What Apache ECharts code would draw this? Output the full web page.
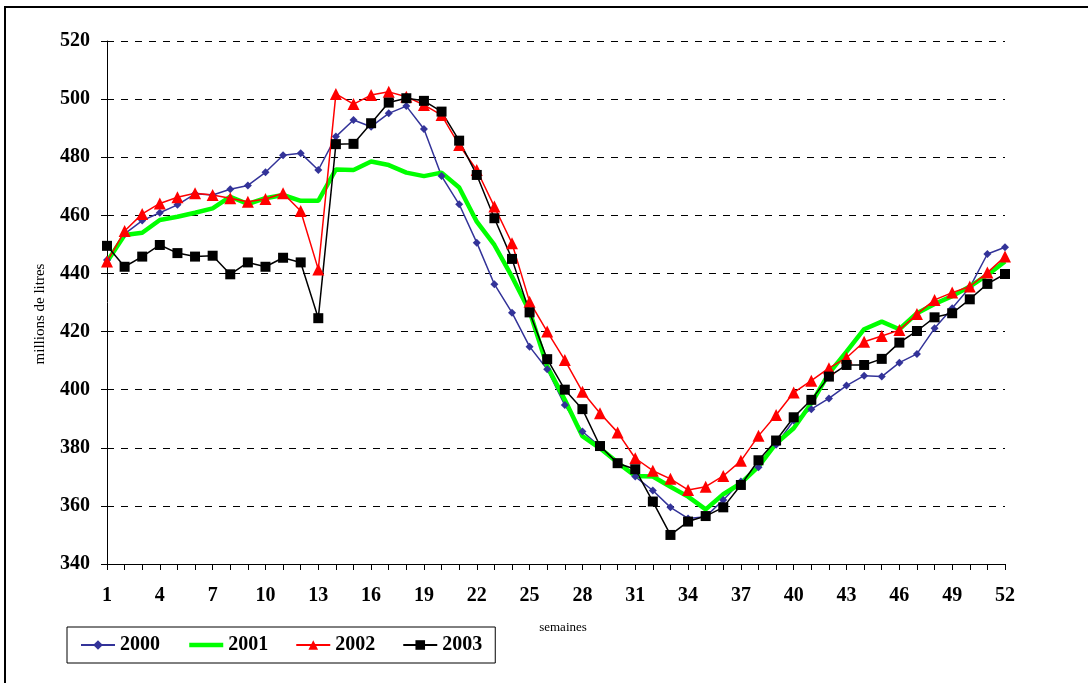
<!DOCTYPE html>
<html>
<head>
<meta charset="utf-8">
<script src="https://cdn.jsdelivr.net/npm/echarts@6/dist/echarts.min.js"></script>
<style>
html,body{margin:0;padding:0;background:#fff;}
#chart{width:1088px;height:683px;}
</style>
</head>
<body>
<div id="chart"></div>
<script>
var weeks = [];
for (var i = 1; i <= 52; i++) weeks.push(String(i));

var d2000 = [444.6, 453.6, 458.2, 460.9, 463.6, 467.4, 467, 469, 470.3, 474.8, 480.7, 481.4, 475.6, 487.1, 492.8, 490.5, 495.1, 497.6, 489.7, 473.5, 463.8, 450.6, 436.3, 426.5, 414.8, 407, 394.7, 385.6, 380.4, 374.7, 370.1, 365.3, 359.5, 355.7, 356.3, 362, 368.4, 373.3, 381, 389.4, 393.3, 397, 401.4, 404.8, 404.5, 409.3, 412.3, 421.1, 428, 435.2, 446.7, 449];
var d2001 = [444, 453.2, 454, 458.4, 459.5, 460.9, 462.4, 466.4, 463.9, 465.9, 467, 465, 465, 475.8, 475.6, 478.5, 477.3, 474.7, 473.5, 474.7, 469.6, 457.8, 449.8, 438.9, 427, 408, 396.5, 384, 379.8, 374.9, 370.3, 370.1, 366.6, 363.2, 358.8, 364, 367.8, 373.5, 381.5, 386.7, 395.3, 405.6, 413.1, 420.8, 423.4, 420.8, 426.3, 429.5, 432.2, 435.5, 439.5, 444.1];
var d2002 = [444.1, 454.6, 460.5, 464.1, 466.2, 467.6, 467, 465.9, 464.7, 465.6, 467.6, 461.5, 441.4, 501.8, 498.3, 501.4, 502.5, 500.8, 498, 494.5, 484.2, 475.6, 463, 450.4, 430.3, 420, 410.2, 399.3, 391.9, 385.3, 376.4, 372.1, 369.3, 365.5, 366.6, 370.3, 375.5, 384.1, 391.3, 399, 403.1, 407.4, 411, 416.5, 418.5, 420.5, 426, 430.9, 433.4, 435.5, 440.3, 445.8];
var d2003 = [449.5, 442.3, 445.8, 449.8, 447, 445.8, 446.1, 439.7, 443.8, 442.3, 445.4, 443.8, 424.6, 484.5, 484.6, 491.7, 498.8, 500.3, 499.4, 495.7, 485.7, 473.9, 459, 445, 426.6, 410.5, 400, 393.3, 380.6, 374.7, 372.6, 361.5, 350, 354.6, 356.5, 359.5, 367.2, 375.7, 382.5, 390.5, 396.5, 404.5, 408.5, 408.5, 410.6, 416.2, 420.2, 424.9, 426.3, 431.1, 436.4, 439.8];

var seriesNames = ['2000', '2001', '2002', '2003'];
var yTitle = 'millions de litres';
var xTitle = 'semaines';

var FONT = '"Liberation Serif", "Times New Roman", serif';

var chart = echarts.init(document.getElementById('chart'), null, {renderer: 'canvas'});
chart.setOption({
  animation: false,
  backgroundColor: '#fff',
  textStyle: {fontFamily: FONT, color: '#000'},
  grid: {left: 107, right: 83, top: 41, bottom: 119, containLabel: false},
  graphic: [
    {type: 'rect', shape: {x: 5, y: 7, width: 2000, height: 2000}, style: {fill: null, stroke: '#000', lineWidth: 2}, silent: true},
    {type: 'text', x: 40, y: 314, rotation: Math.PI / 2, style: {text: yTitle, font: '15px ' + FONT, fill: '#000', align: 'center', verticalAlign: 'middle'}},
    {type: 'text', x: 563, y: 628, style: {text: xTitle, font: '13px ' + FONT, fill: '#000', align: 'center', verticalAlign: 'middle'}}
  ],
  legend: {
    data: [
      {name: seriesNames[0]},
      {name: seriesNames[1], itemStyle: {opacity: 0}, lineStyle: {width: 4.5}},
      {name: seriesNames[2]},
      {name: seriesNames[3]}
    ],
    left: 67, top: 627,
    orient: 'horizontal',
    borderColor: '#000', borderWidth: 1,
    padding: [8, 13, 8, 13],
    itemWidth: 34, itemHeight: 12, itemGap: 27,
    textStyle: {fontFamily: FONT, fontWeight: 'bold', fontSize: 20, color: '#000'}
  },
  xAxis: {
    type: 'category', data: weeks, boundaryGap: false,
    axisLine: {lineStyle: {color: '#000', width: 1}},
    axisTick: {show: true, interval: 0, length: 6, lineStyle: {color: '#000'}},
    axisLabel: {interval: 2, margin: 22, fontFamily: FONT, fontWeight: 'bold', fontSize: 20, color: '#000'},
    splitLine: {show: false}
  },
  yAxis: {
    type: 'value', min: 340, max: 520, interval: 20,
    axisLine: {show: true, lineStyle: {color: '#000', width: 1}},
    axisTick: {show: true, length: 6, lineStyle: {color: '#000'}},
    axisLabel: {margin: 17, fontFamily: FONT, fontWeight: 'bold', fontSize: 20, color: '#000'},
    splitLine: {show: true, lineStyle: {color: '#000', type: [7, 7], width: 1}}
  },
  series: [
    {name: '2000', type: 'line', data: d2000, symbol: 'diamond', symbolSize: 8, showAllSymbol: true,
     lineStyle: {color: '#333399', width: 1.5}, itemStyle: {color: '#333399'}},
    {name: '2001', type: 'line', data: d2001, symbol: 'none', showSymbol: false,
     lineStyle: {color: '#00ff00', width: 4.5}, itemStyle: {color: '#00ff00'}},
    {name: '2002', type: 'line', data: d2002, symbol: 'triangle', symbolSize: 12, showAllSymbol: true,
     lineStyle: {color: '#ff0000', width: 1.5}, itemStyle: {color: '#ff0000'}},
    {name: '2003', type: 'line', data: d2003, symbol: 'rect', symbolSize: 10, showAllSymbol: true,
     lineStyle: {color: '#000', width: 1.5}, itemStyle: {color: '#000'}}
  ]
});
</script>
</body>
</html>
